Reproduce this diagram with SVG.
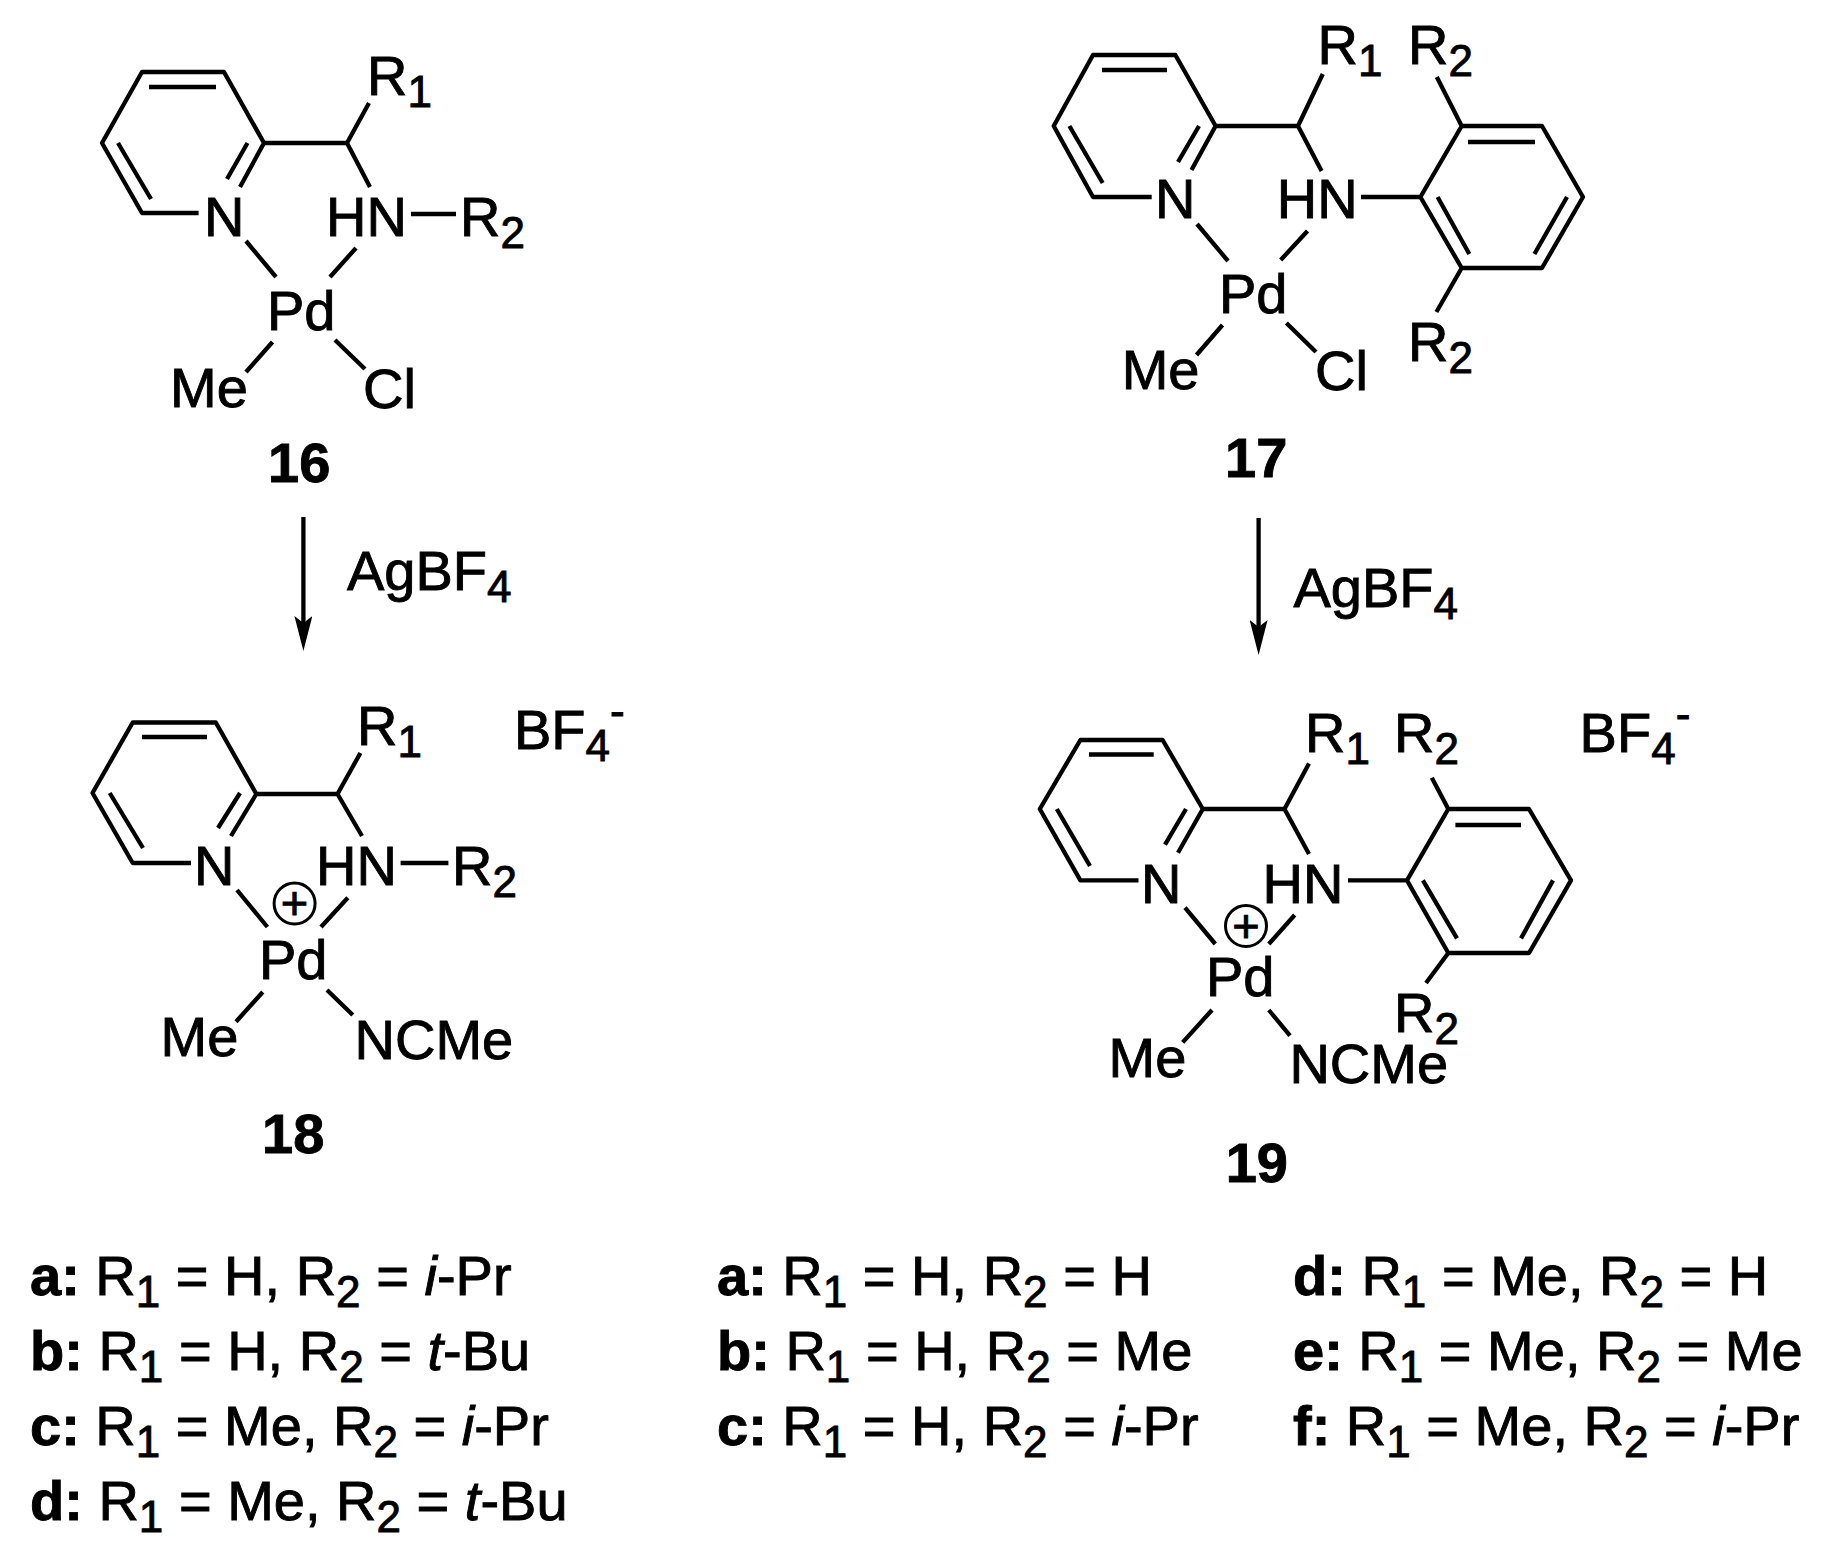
<svg xmlns="http://www.w3.org/2000/svg" width="1846" height="1562" viewBox="0 0 1846 1562">
<defs>
<style>
text{font-family:"Liberation Sans",Arial,sans-serif;font-size:56px;fill:#000;stroke:#000;stroke-width:.9}
.s{font-size:44px}
.b{font-weight:bold}
.i{font-style:italic}
.bond{fill:none;stroke:#000;stroke-width:4.3;stroke-linejoin:round}
.arrow{fill:none;stroke:#000;stroke-width:4.3}
.chg{fill:none;stroke:#000;stroke-width:3}
</style>
<marker id="head" markerUnits="userSpaceOnUse" markerWidth="35" markerHeight="18" refX="7" refY="9" orient="auto" viewBox="0 0 35 18"><path d="M0 0L7 9L0 18L35 9Z" fill="#000"/></marker>
</defs>
<rect width="1846" height="1562" fill="#fff"/>
<g id="connectors">
<path class="arrow" marker-end="url(#head)" d="M303.4 517V623"/>
<path class="arrow" marker-end="url(#head)" d="M1258.6 518V627"/>
</g>
<g id="compound-16">
<path class="bond" d="M240 187L264 143L224 72H142L102 143L142 213H198.6M247.5 143L227 179M149 87H216M118 143L151 199M264 143H347L369 103M347 143L370 187M411 214H456M246 241L276 277M356 248L330 277M272.5 342L246 372M335 340L365 369"/>
<text x="367" y="95">R<tspan class="s" dy="12">1</tspan></text>
<text x="204" y="236">N</text>
<text x="326" y="236">HN</text>
<text x="460" y="236">R<tspan class="s" dy="12">2</tspan></text>
<text x="267" y="330">Pd</text>
<text x="170" y="407">Me</text>
<text x="363" y="408">Cl</text>
<text class="b" x="268" y="482">16</text>
</g>
<g id="compound-17">
<path class="bond" d="M1191.5 170L1215.6 126L1175.4 55H1093L1053.7 126L1093 197H1151.7M1199 126L1178 162M1102 70H1167M1069.4 126L1102.7 183M1215.6 126H1298L1322.8 74M1298 126L1321.6 171M1361 197H1420.4L1461.7 126H1542L1583 197L1542 268H1461.7L1420.4 197M1468 142H1535M1567 197L1534.4 254M1437.6 197L1469.3 254M1461.7 126L1436.8 77M1461.7 268L1436.4 312M1197 224L1228 261M1307.5 231L1280.7 260M1222.5 325L1196.5 355M1286.4 323L1316 352"/>
<text x="1317.6" y="64">R<tspan class="s" dy="12">1</tspan></text>
<text x="1408" y="64">R<tspan class="s" dy="12">2</tspan></text>
<text x="1155" y="218">N</text>
<text x="1276.7" y="218">HN</text>
<text x="1219" y="313">Pd</text>
<text x="1121.7" y="389">Me</text>
<text x="1315" y="390">Cl</text>
<text x="1408" y="361">R<tspan class="s" dy="12">2</tspan></text>
<text class="b" x="1225" y="477">17</text>
</g>
<g id="compound-18">
<path class="bond" d="M231 836L256.3 794L215.8 722.5H132.7L92.5 793L132.7 863H191M240 793L218 828M142 737H207M109.7 793L143 848M256.3 794H337.5L360.4 753M337.5 794L362 836M400.6 863H448.4M237 890L267.4 927M347.8 897.7L321 927M262.8 992L236 1021.7M327 990L352.8 1015"/>
<circle class="chg" cx="294.6" cy="903.5" r="20.5"/>
<text x="294.6" y="919" style="font-size:47px" text-anchor="middle">+</text>
<text x="357" y="745">R<tspan class="s" dy="12">1</tspan></text>
<text x="514" y="748.5">BF<tspan class="s" dy="12">4</tspan><tspan class="s" dy="-35">-</tspan></text>
<text x="194" y="885">N</text>
<text x="316" y="885">HN</text>
<text x="452" y="885">R<tspan class="s" dy="12">2</tspan></text>
<text x="259" y="979">Pd</text>
<text x="160.5" y="1056">Me</text>
<text x="354.5" y="1059">NCMe</text>
<text class="b" x="262" y="1152.6">18</text>
</g>
<g id="compound-19">
<path class="bond" d="M1178 852.7L1202.8 809L1162.6 740H1080.4L1039.8 809L1080.4 880.4H1138.5M1186 809L1165 844.6M1089 754.5H1153.7M1056.8 809L1090 866M1202.8 809H1284.5L1309 763.4M1284.5 809L1309 854M1348 880.4H1407L1448.3 809H1529L1571 880.4L1529 953H1448.3L1407 880.4M1455.4 825H1521M1553 880.4L1521 938.4M1422.9 880.4L1457 938.4M1448.3 809L1431.8 777.7M1448.3 953L1426 983M1185 907.6L1215.3 944M1294.7 915L1268.8 944M1212 1010L1182.7 1042.4M1268.8 1010L1290 1035.7"/>
<circle class="chg" cx="1246" cy="926" r="20.5"/>
<text x="1246" y="941.5" style="font-size:47px" text-anchor="middle">+</text>
<text x="1305" y="752">R<tspan class="s" dy="12">1</tspan></text>
<text x="1394" y="752">R<tspan class="s" dy="12">2</tspan></text>
<text x="1579.6" y="752">BF<tspan class="s" dy="12">4</tspan><tspan class="s" dy="-35">-</tspan></text>
<text x="1141" y="902.7">N</text>
<text x="1262.6" y="902.7">HN</text>
<text x="1206" y="996.4">Pd</text>
<text x="1394" y="1032">R<tspan class="s" dy="12">2</tspan></text>
<text x="1108.6" y="1077">Me</text>
<text x="1289.4" y="1082.6">NCMe</text>
<text class="b" x="1225.7" y="1182">19</text>
</g>
<g id="reagent-left"><text x="347" y="590">AgBF<tspan class="s" dy="12">4</tspan></text></g>
<g id="reagent-right"><text x="1293.4" y="607">AgBF<tspan class="s" dy="12">4</tspan></text></g>
<g id="legend-left">
<text x="30" y="1295"><tspan class="b">a:</tspan> R<tspan class="s" dy="12">1</tspan><tspan dy="-12"> = H, R</tspan><tspan class="s" dy="12">2</tspan><tspan dy="-12"> = </tspan><tspan class="i">i</tspan>-Pr</text>
<text x="30" y="1370"><tspan class="b">b:</tspan> R<tspan class="s" dy="12">1</tspan><tspan dy="-12"> = H, R</tspan><tspan class="s" dy="12">2</tspan><tspan dy="-12"> = </tspan><tspan class="i">t</tspan>-Bu</text>
<text x="30" y="1445"><tspan class="b">c:</tspan> R<tspan class="s" dy="12">1</tspan><tspan dy="-12"> = Me, R</tspan><tspan class="s" dy="12">2</tspan><tspan dy="-12"> = </tspan><tspan class="i">i</tspan>-Pr</text>
<text x="30" y="1520"><tspan class="b">d:</tspan> R<tspan class="s" dy="12">1</tspan><tspan dy="-12"> = Me, R</tspan><tspan class="s" dy="12">2</tspan><tspan dy="-12"> = </tspan><tspan class="i">t</tspan>-Bu</text>
</g>
<g id="legend-middle">
<text x="717" y="1295"><tspan class="b">a:</tspan> R<tspan class="s" dy="12">1</tspan><tspan dy="-12"> = H, R</tspan><tspan class="s" dy="12">2</tspan><tspan dy="-12"> = H</tspan></text>
<text x="717" y="1370"><tspan class="b">b:</tspan> R<tspan class="s" dy="12">1</tspan><tspan dy="-12"> = H, R</tspan><tspan class="s" dy="12">2</tspan><tspan dy="-12"> = Me</tspan></text>
<text x="717" y="1445"><tspan class="b">c:</tspan> R<tspan class="s" dy="12">1</tspan><tspan dy="-12"> = H, R</tspan><tspan class="s" dy="12">2</tspan><tspan dy="-12"> = </tspan><tspan class="i">i</tspan>-Pr</text>
</g>
<g id="legend-right">
<text x="1293" y="1295"><tspan class="b">d:</tspan> R<tspan class="s" dy="12">1</tspan><tspan dy="-12"> = Me, R</tspan><tspan class="s" dy="12">2</tspan><tspan dy="-12"> = H</tspan></text>
<text x="1293" y="1370"><tspan class="b">e:</tspan> R<tspan class="s" dy="12">1</tspan><tspan dy="-12"> = Me, R</tspan><tspan class="s" dy="12">2</tspan><tspan dy="-12"> = Me</tspan></text>
<text x="1293" y="1445"><tspan class="b">f:</tspan> R<tspan class="s" dy="12">1</tspan><tspan dy="-12"> = Me, R</tspan><tspan class="s" dy="12">2</tspan><tspan dy="-12"> = </tspan><tspan class="i">i</tspan>-Pr</text>
</g>
</svg>
